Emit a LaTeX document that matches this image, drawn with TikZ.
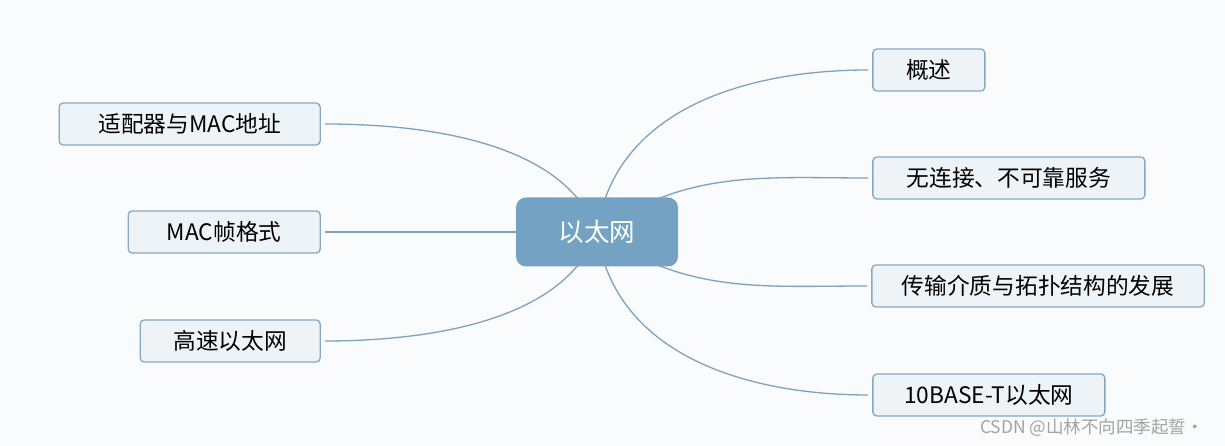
\documentclass[tikz,border=0pt]{standalone}
\usepackage{fontspec}
\newfontfamily\cjk{Noto Sans CJK SC}
\usetikzlibrary{positioning,backgrounds}
\definecolor{bgcol}{HTML}{FAFBFC}
\definecolor{hubfill}{HTML}{74A2C2}
\definecolor{leaffill}{HTML}{EEF3F7}
\definecolor{leafline}{HTML}{86A8C2}
\definecolor{linkcol}{HTML}{7DA2BE}
\definecolor{marktext}{HTML}{A3A3A3}

\begin{document}
\begin{tikzpicture}[x=1pt,y=1pt,
  center node/.style={rectangle,rounded corners=10pt,fill=hubfill,text=white,minimum width=162pt,minimum height=69pt,font=\cjk\fontsize{25.5pt}{30pt}\selectfont},
  leaf node/.style={rectangle,rounded corners=4pt,draw=leafline,line width=1.3pt,fill=leaffill,text=black,minimum height=42pt,inner xsep=30pt,font=\cjk\fontsize{22.7pt}{27pt}\selectfont},
  link/.style={draw=linkcol,line width=1.3pt,shorten >=4pt},
  watermark/.style={text=marktext,font=\cjk\fontsize{17.5pt}{20pt}\selectfont}]
            \useasboundingbox (0,0) rectangle (1225,446);
            \node[center node] (0) at (597,214) {以太网};

            \node[leaf node, minimum width=261pt] (1) [left=195pt of 0, yshift=108pt] {适配器与MAC地址};
            \node[leaf node, minimum width=192pt] (2) [left=195pt of 0] {MAC帧格式};
            \node[leaf node, minimum width=180pt] (3) [left=195pt of 0, yshift=-109pt] {高速以太网};

            \node[leaf node, minimum width=112pt] (4) [right=194pt of 0, yshift=162pt] {概述};
            \node[leaf node, minimum width=272pt] (5) [right=194pt of 0, yshift=54pt] {无连接、不可靠服务};
            \node[leaf node, minimum width=330pt] (6) [right=193pt of 0, yshift=-54pt] {传输介质与拓扑结构的发展};
            \node[leaf node, minimum width=232pt] (7) [right=194pt of 0, yshift=-163pt] {10BASE-T以太网};

            \node[watermark] (8) at (1092,18) {CSDN @山林不向四季起誓·};

            \begin{scope}[on background layer]
            \fill[bgcol] (0,0) rectangle (1225,446);
            \path[link]
                (0.center) edge[out=110,in=0,looseness=0.85] (1)
                (0.center) edge (2)
                (0.center) edge[out=-110,in=0,looseness=0.85] (3)

                (0.center) edge[out=82,in=180] (4)
                (0.center) edge[out=35,in=180] (5)
                (0.center) edge[out=-35,in=180] (6)
                (0.center) edge[out=-82,in=180] (7)
            ;
            \end{scope}
\end{tikzpicture}
\end{document}
